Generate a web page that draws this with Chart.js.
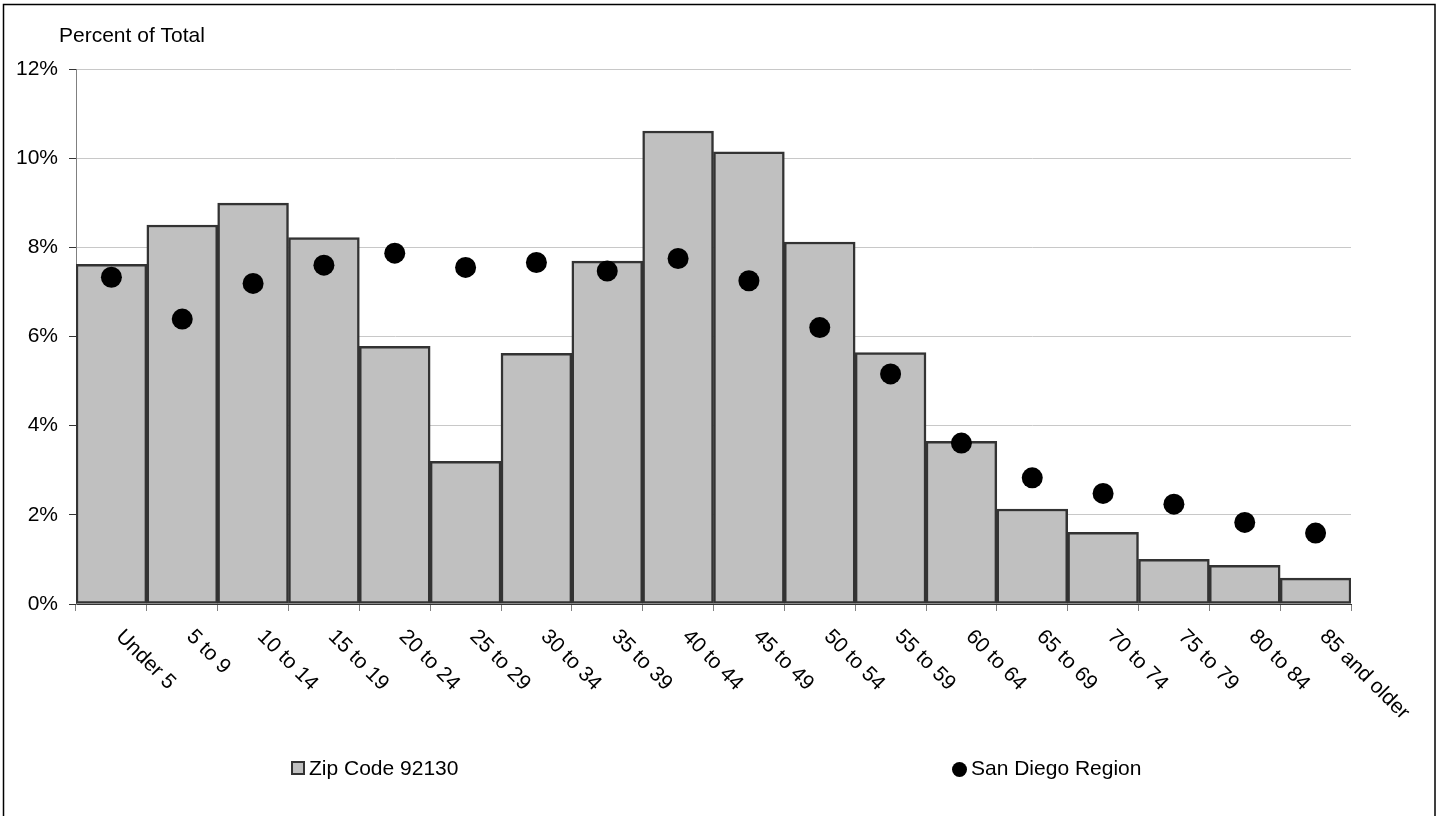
<!DOCTYPE html>
<html lang="en">
<head>
    <meta charset="UTF-8">
    <title>Percent of Total by Age</title>
    <script src="https://cdn.jsdelivr.net/npm/chart.js"></script>
    <style>
        html, body { margin: 0; padding: 0; background: #fff; }
        canvas { display: block; }
    </style>
</head>
<body>
    <canvas id="chartCanvas" width="1440" height="816"></canvas>

    <script>
        // age groups and shares (percent of total)
        const ageGroups = ["Under 5", "5 to 9", "10 to 14", "15 to 19", "20 to 24", "25 to 29", "30 to 34", "35 to 39", "40 to 44", "45 to 49", "50 to 54", "55 to 59", "60 to 64", "65 to 69", "70 to 74", "75 to 79", "80 to 84", "85 and older"];
        const zipShare = [7.62, 8.50, 8.99, 8.22, 5.78, 3.20, 5.62, 7.69, 10.61, 10.14, 8.12, 5.64, 3.65, 2.13, 1.61, 1.00, 0.87, 0.58];
        const regionShare = [7.33, 6.39, 7.19, 7.60, 7.87, 7.55, 7.66, 7.47, 7.75, 7.25, 6.20, 5.16, 3.61, 2.83, 2.48, 2.24, 1.83, 1.59];
        const yTicks = [0, 2, 4, 6, 8, 10, 12];

        const FONT = '21px "Liberation Sans", Arial, sans-serif';

        // frame, axis title, slanted category labels and the legend
        const decorations = {
            id: 'decorations',
            beforeDraw(chart) {
                const ctx = chart.ctx;
                ctx.save();
                ctx.fillStyle = '#fff';
                ctx.fillRect(0, 0, chart.width, chart.height);
                ctx.strokeStyle = '#000';
                ctx.lineWidth = 1.5;
                ctx.strokeRect(3.5, 4.5, 1431.5, 900);
                ctx.restore();
            },
            afterDraw(chart) {
                const ctx = chart.ctx;
                const xScale = chart.scales.x;
                ctx.save();
                ctx.font = FONT;
                ctx.fillStyle = '#000';

                ctx.textAlign = 'left';
                ctx.textBaseline = 'alphabetic';
                ctx.fillText('Percent of Total', 59, 42);

                // category labels, rotated 45deg clockwise
                ctx.textBaseline = 'top';
                chart.data.labels.forEach((lbl, i) => {
                    const x = xScale.getPixelForValue(i);
                    ctx.save();
                    ctx.translate(x + 15, xScale.top + 22);
                    ctx.rotate(Math.PI / 4);
                    ctx.fillText(lbl, 0, 0);
                    ctx.restore();
                });

                // legend
                const ds = chart.data.datasets;
                ctx.textBaseline = 'alphabetic';
                ctx.fillStyle = '#C0C0C0';
                ctx.fillRect(291, 761, 14, 14);
                ctx.strokeStyle = '#333';
                ctx.lineWidth = 2;
                ctx.strokeRect(292, 762, 12, 12);
                ctx.fillStyle = '#000';
                ctx.fillText(ds[0].label, 309, 775);

                ctx.beginPath();
                ctx.arc(959.5, 769.5, 7.5, 0, Math.PI * 2);
                ctx.fill();
                ctx.fillText(ds[1].label, 971, 775);
                ctx.restore();
            }
        };

        const ctx = document.getElementById('chartCanvas').getContext('2d');
        new Chart(ctx, {
            type: 'bar',
            data: {
                labels: ageGroups,
                datasets: [
                    {
                        label: 'Zip Code 92130',
                        data: zipShare,
                        backgroundColor: '#C0C0C0',
                        borderColor: '#333333',
                        borderWidth: 2.5,
                        borderSkipped: false,
                        barPercentage: 1,
                        categoryPercentage: 1,
                        order: 1
                    },
                    {
                        label: 'San Diego Region',
                        data: regionShare,
                        type: 'line',
                        showLine: false,
                        pointRadius: 10.5,
                        pointHoverRadius: 10.5,
                        pointBackgroundColor: '#000',
                        pointBorderColor: '#000',
                        pointBorderWidth: 0,
                        order: 0
                    }
                ]
            },
            options: {
                responsive: false,
                animation: false,
                devicePixelRatio: 1,
                layout: {
                    padding: { left: 0, right: 89, top: 69, bottom: 0 }
                },
                scales: {
                    x: {
                        offset: true,
                        grid: {
                            offset: true,
                            drawOnChartArea: false,
                            drawTicks: true,
                            tickLength: 7,
                            tickColor: '#808080'
                        },
                        border: { color: '#333333', width: 1 },
                        ticks: { display: false },
                        afterFit(scale) { scale.height = 212; }
                    },
                    y: {
                        min: 0,
                        max: 12,
                        afterBuildTicks(scale) {
                            scale.ticks = yTicks.map(v => ({ value: v }));
                        },
                        ticks: {
                            callback: v => v + '%',
                            color: '#000',
                            padding: 11,
                            font: { family: '"Liberation Sans", Arial, sans-serif', size: 21 }
                        },
                        grid: {
                            color: '#C8C8C8',
                            tickLength: 7,
                            tickColor: '#333333'
                        },
                        border: { color: '#808080', width: 1 },
                        afterFit(scale) { scale.width = 76; }
                    }
                },
                plugins: {
                    legend: { display: false },
                    tooltip: { enabled: false }
                }
            },
            plugins: [decorations]
        });
    </script>
</body>
</html>
